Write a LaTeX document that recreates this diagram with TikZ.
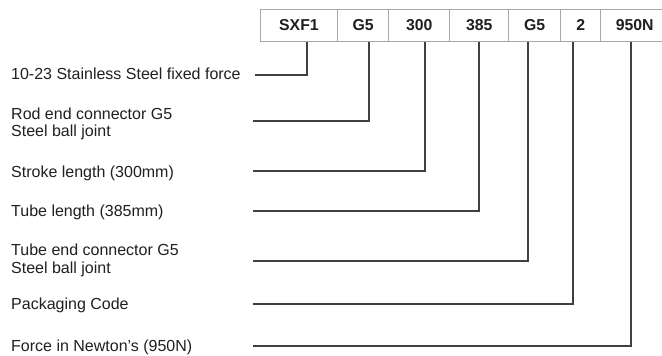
\documentclass[tikz,border=0pt]{standalone}
\usepackage{fontspec}
\setmainfont{Liberation Sans}
\definecolor{txt}{HTML}{231F20}
\definecolor{conngray}{HTML}{404040}
\definecolor{cellgray}{HTML}{A8A8A8}
\begin{document}
\begin{tikzpicture}[x=1pt,y=-1pt,
  lab/.style={anchor=base west, inner sep=0pt, font=\fontsize{16}{17.7}\selectfont, text=txt, align=left},
  cell/.style={draw=cellgray, line width=1.4pt, minimum height=32.5pt, inner sep=0pt, anchor=north west,
    font=\fontsize{15.8}{18}\selectfont\bfseries, text=txt},
  conn/.style={draw=conngray, line width=1.6pt}]
\useasboundingbox (0,0) rectangle (662,356);
\clip (0,0) rectangle (662,356);
\fill[white] (0,0) rectangle (662,356);
% code cells
\node[cell, minimum width=77.5pt] (b1) at (259.5,8.5) {SXF1};
\node[cell, minimum width=51pt]   (b2) at (337,8.5) {G5};
\node[cell, minimum width=61pt]   (b3) at (388,8.5) {300};
\node[cell, minimum width=59pt]   (b4) at (449,8.5) {385};
\node[cell, minimum width=52pt]   (b5) at (508,8.5) {G5};
\node[cell, minimum width=40pt]   (b6) at (560,8.5) {2};
\node[cell, minimum width=68pt]   (b7) at (600,8.5) {950N};
% labels
\node[lab] (l1) at (11,79.5) {10-23 Stainless Steel fixed force};
\node[lab] (l2) at (11,136.7) {Rod end connector G5\\Steel ball joint};
\node[lab] (l3) at (11,177) {Stroke length (300mm)};
\node[lab] (l4) at (11,216.5) {Tube length (385mm)};
\node[lab] (l5) at (11,273.5) {Tube end connector G5\\Steel ball joint};
\node[lab] (l6) at (11,309.5) {Packaging Code};
\node[lab] (l7) at (11,351.5) {Force in Newton's (950N)};
% tap x positions
\coordinate (t1) at (307,0);
\coordinate (t2) at (369,0);
\coordinate (t3) at (425,0);
\coordinate (t4) at (479,0);
\coordinate (t5) at (528,0);
\coordinate (t6) at (573,0);
\coordinate (t7) at (631,0);
% line starts
\coordinate (s1) at (255,75);
\coordinate (s2) at (253,120.7);
\coordinate (s3) at (253,170.7);
\coordinate (s4) at (253,210.7);
\coordinate (s5) at (253,260.7);
\coordinate (s6) at (253,304);
\coordinate (s7) at (253,345.7);
% connectors
\draw[conn] (s1) -| (b1.south -| t1);
\draw[conn] (s2) -| (b2.south -| t2);
\draw[conn] (s3) -| (b3.south -| t3);
\draw[conn] (s4) -| (b4.south -| t4);
\draw[conn] (s5) -| (b5.south -| t5);
\draw[conn] (s6) -| (b6.south -| t6);
\draw[conn] (s7) -| (b7.south -| t7);
\end{tikzpicture}
\end{document}
